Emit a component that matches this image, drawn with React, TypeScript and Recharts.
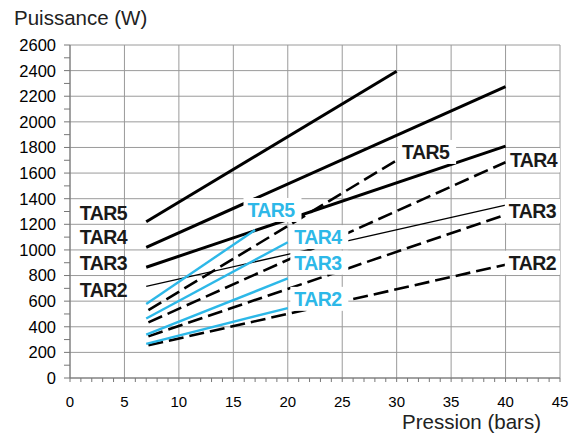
import React from "react";
import {
  CartesianGrid,
  ComposedChart,
  Line,
  Scatter,
  XAxis,
  YAxis,
} from "recharts";

type Pt = { x: number; y: number };
type Lbl = { x: number; y: number; text: string };

// pressure (bars) -> power (W)
const tar5Solid: Pt[] = [{ x: 7, y: 1220 }, { x: 30, y: 2395 }];
const tar4Solid: Pt[] = [{ x: 7, y: 1020 }, { x: 40, y: 2275 }];
const tar3Solid: Pt[] = [{ x: 7, y: 865 }, { x: 40, y: 1810 }];
const tar2Solid: Pt[] = [{ x: 7, y: 715 }, { x: 40, y: 1350 }];

const tar5Dash: Pt[] = [{ x: 7.2, y: 530 }, { x: 30, y: 1700 }];
const tar4Dash: Pt[] = [{ x: 7.2, y: 434 }, { x: 40, y: 1685 }];
const tar3Dash: Pt[] = [{ x: 7.2, y: 325 }, { x: 40, y: 1275 }];
const tar2Dash: Pt[] = [{ x: 7.2, y: 255 }, { x: 40, y: 885 }];

const tar5Blue: Pt[] = [{ x: 7, y: 577 }, { x: 17, y: 1156 }];
const tar4Blue: Pt[] = [{ x: 7, y: 465 }, { x: 20, y: 1060 }];
const tar3Blue: Pt[] = [{ x: 7, y: 338 }, { x: 20, y: 777 }];
const tar2Blue: Pt[] = [{ x: 7, y: 267 }, { x: 20, y: 546 }];

const leftLabels: Lbl[] = [
  { x: 0.9, y: 1290, text: "TAR5" },
  { x: 0.9, y: 1100, text: "TAR4" },
  { x: 0.9, y: 900, text: "TAR3" },
  { x: 0.9, y: 690, text: "TAR2" },
];
const rightLabels: Lbl[] = [
  { x: 30.5, y: 1765, text: "TAR5" },
  { x: 40.4, y: 1700, text: "TAR4" },
  { x: 40.3, y: 1305, text: "TAR3" },
  { x: 40.3, y: 900, text: "TAR2" },
];
const blueLabels: Lbl[] = [
  { x: 16.3, y: 1312, text: "TAR5" },
  { x: 20.6, y: 1100, text: "TAR4" },
  { x: 20.6, y: 900, text: "TAR3" },
  { x: 20.6, y: 618, text: "TAR2" },
];

const xTicks = Array.from({ length: 46 }, (_, i) => i);
const yTicks = Array.from({ length: 27 }, (_, i) => i * 100);
const xGrid = [0, 5, 10, 15, 20, 25, 30, 35, 40, 45];
const yGrid = yTicks.filter((v) => v % 200 === 0);

const BLUE = "#2db8e8";
const FONT = "'Liberation Sans', Arial, sans-serif";

const XTick = (props: any) => {
  const { x, y, payload } = props;
  if (payload.value % 5 !== 0) return <g />;
  return (
    <text x={x} y={y} dy="0.71em" textAnchor="middle" fontSize={15} fill="#000" fontFamily={FONT}>
      {payload.value}
    </text>
  );
};

const YTick = (props: any) => {
  const { x, y, payload } = props;
  if (payload.value % 200 !== 0) return <g />;
  return (
    <text x={x} y={y} dy="0.36em" textAnchor="end" fontSize={16.5} fill="#000" fontFamily={FONT}>
      {payload.value}
    </text>
  );
};

const makeLabel = (color: string, bg: boolean) => (props: any) => {
  const { cx, cy, payload } = props;
  return (
    <g>
      {bg && <rect x={cx - 4} y={cy - 12} width={58} height={24} fill="#fff" />}
      <text
        x={cx}
        y={cy}
        dy="0.36em"
        fontSize={19.5}
        fontWeight="bold"
        fill={color}
        fontFamily={FONT}
        letterSpacing={-0.6}
      >
        {payload.text}
      </text>
    </g>
  );
};

export default function App() {
  const solid = (d: Pt[], w: number, key: string) => (
    <Line
      key={key}
      data={d}
      dataKey="y"
      stroke="#000"
      strokeWidth={w}
      dot={false}
      activeDot={false}
      isAnimationActive={false}
      type="linear"
    />
  );
  const dashed = (d: Pt[], key: string) => (
    <Line
      key={key}
      data={d}
      dataKey="y"
      stroke="#000"
      strokeWidth={2.6}
      strokeDasharray="15 6"
      dot={false}
      activeDot={false}
      isAnimationActive={false}
      type="linear"
    />
  );
  const blue = (d: Pt[], key: string) => (
    <Line
      key={key}
      data={d}
      dataKey="y"
      stroke={BLUE}
      strokeWidth={2.4}
      dot={false}
      activeDot={false}
      isAnimationActive={false}
      type="linear"
    />
  );

  return (
    <div style={{ position: "absolute", left: 0, top: 0, width: 585, height: 436, background: "#fff" }}>
      <div
        style={{
          position: "absolute",
          left: 14,
          top: 7,
          fontFamily: FONT,
          fontSize: 20.5,
          lineHeight: "21px",
          color: "#222",
        }}
      >
        Puissance (W)
      </div>
      <div
        style={{
          position: "absolute",
          left: 402,
          top: 411,
          fontFamily: FONT,
          fontSize: 20.5,
          lineHeight: "21px",
          color: "#222",
        }}
      >
        Pression (bars)
      </div>
      <ComposedChart
        width={585}
        height={436}
        margin={{ top: 45, right: 25, left: 0, bottom: 0 }}
        style={{ position: "absolute", left: 0, top: 0 }}
      >
        <CartesianGrid
          stroke="#9a9a9a"
          strokeWidth={1}
          horizontalValues={yGrid}
          verticalValues={xGrid}
        />
        <XAxis
          type="number"
          dataKey="x"
          domain={[0, 45]}
          ticks={xTicks}
          interval={0}
          height={58}
          tickSize={4}
          tickMargin={14}
          axisLine={{ stroke: "#777" }}
          tickLine={{ stroke: "#777" }}
          tick={<XTick />}
          allowDataOverflow
        />
        <YAxis
          type="number"
          dataKey="y"
          domain={[0, 2600]}
          ticks={yTicks}
          interval={0}
          width={70}
          tickSize={6}
          tickMargin={8}
          axisLine={{ stroke: "#777" }}
          tickLine={{ stroke: "#777" }}
          tick={<YTick />}
          allowDataOverflow
        />
        {solid(tar5Solid, 3, "s5")}
        {solid(tar4Solid, 3, "s4")}
        {solid(tar3Solid, 3, "s3")}
        {solid(tar2Solid, 1.3, "s2")}
        {dashed(tar5Dash, "d5")}
        {dashed(tar4Dash, "d4")}
        {dashed(tar3Dash, "d3")}
        {dashed(tar2Dash, "d2")}
        {blue(tar5Blue, "b5")}
        {blue(tar4Blue, "b4")}
        {blue(tar3Blue, "b3")}
        {blue(tar2Blue, "b2")}
        <Scatter data={leftLabels} isAnimationActive={false} shape={makeLabel("#1a1a1a", false)} />
        <Scatter data={rightLabels} isAnimationActive={false} shape={makeLabel("#1a1a1a", true)} />
        <Scatter data={blueLabels} isAnimationActive={false} shape={makeLabel(BLUE, true)} />
      </ComposedChart>
    </div>
  );
}
